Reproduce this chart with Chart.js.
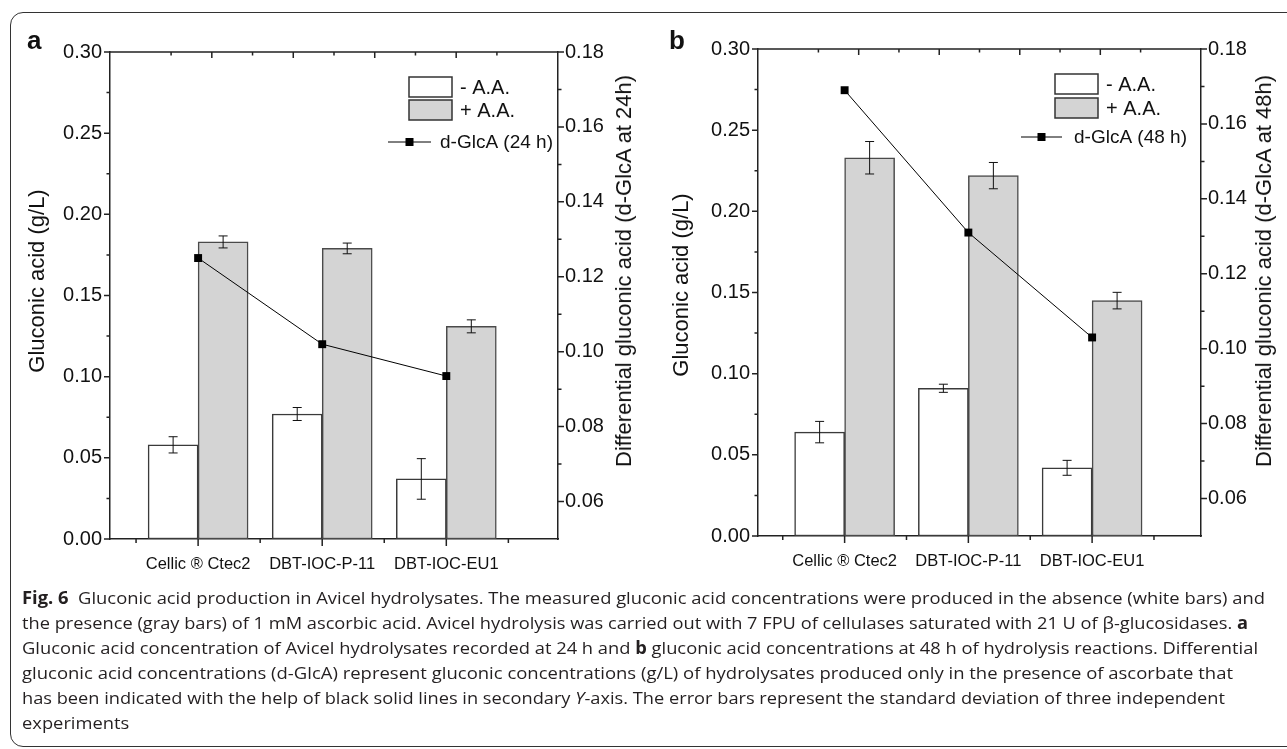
<!DOCTYPE html>
<html>
<head>
<meta charset="utf-8">
<script src="https://cdn.jsdelivr.net/npm/chart.js@4.4.1/dist/chart.umd.min.js"></script>
<style>
  body { margin: 0; background: #fff; width: 1287px; height: 749px; overflow: hidden; position: relative; font-family: 'Liberation Sans', Arial, sans-serif; color: #111; }
  .frame { position: absolute; left: 10px; top: 12px; width: 1320px; height: 733px; border: 1px solid #333; border-radius: 13px; }
  canvas { position: absolute; top: 0; }
  #chartA { left: 0; }
  #chartB { left: 640px; }
  .panel { position: absolute; font-weight: bold; font-size: 26px; line-height: 29px; }
  .ytitle { position: absolute; font-size: 22px; white-space: nowrap; transform: translate(-50%, -50%) rotate(-90deg); }
  .caption { position: absolute; left: 22px; top: 585px; font-family: 'Open Sans', 'Noto Sans', sans-serif; font-size: 17px; line-height: 25px; color: #231f20; }
  .caption div { white-space: nowrap; width: max-content; transform-origin: 0 50%; }
</style>
</head>
<body>
<div class="frame"></div>
<canvas id="chartA" width="640" height="590"></canvas>
<canvas id="chartB" width="647" height="590"></canvas>

<div class="panel" style="left:27px;top:26px">a</div>
<div class="panel" style="left:669px;top:26px">b</div>

<div class="ytitle" style="left:37px;top:281px">Gluconic acid (g/L)</div>
<div class="ytitle" style="left:624px;top:271px">Differential gluconic acid (d-GlcA at 24h)</div>
<div class="ytitle" style="left:681px;top:285px">Gluconic acid (g/L)</div>
<div class="ytitle" style="left:1264px;top:271px">Differential gluconic acid (d-GlcA at 48h)</div>

<div class="caption">
  <div><b>Fig. 6</b>&nbsp; Gluconic acid production in Avicel hydrolysates. The measured gluconic acid concentrations were produced in the absence (white bars) and</div>
  <div>the presence (gray bars) of 1 mM ascorbic acid. Avicel hydrolysis was carried out with 7 FPU of cellulases saturated with 21 U of β-glucosidases. <b>a</b></div>
  <div>Gluconic acid concentration of Avicel hydrolysates recorded at 24 h and <b>b</b> gluconic acid concentrations at 48 h of hydrolysis reactions. Differential</div>
  <div>gluconic acid concentrations (d-GlcA) represent gluconic concentrations (g/L) of hydrolysates produced only in the presence of ascorbate that</div>
  <div>has been indicated with the help of black solid lines in secondary <i>Y</i>-axis. The error bars represent the standard deviation of three independent</div>
  <div>experiments</div>
</div>

<script>
const categories = ['Cellic ® Ctec2', 'DBT-IOC-P-11', 'DBT-IOC-EU1'];
const leftTicks = [0.00, 0.05, 0.10, 0.15, 0.20, 0.25, 0.30];
const rightTicks = [0.06, 0.08, 0.10, 0.12, 0.14, 0.16, 0.18];

// panel a, 24 h
const noAA24 = [0.058, 0.077, 0.037];
const noAA24Err = [0.005, 0.004, 0.0125];
const withAA24 = [0.183, 0.179, 0.131];
const withAA24Err = [0.0037, 0.0033, 0.004];
const dGlcA24 = [0.125, 0.102, 0.0935];

// panel b, 48 h
const noAA48 = [0.064, 0.091, 0.042];
const noAA48Err = [0.0066, 0.0025, 0.0046];
const withAA48 = [0.233, 0.222, 0.145];
const withAA48Err = [0.010, 0.0081, 0.0051];
const dGlcA48 = [0.169, 0.131, 0.103];

Chart.defaults.font.family = "'Liberation Sans', Arial, sans-serif";
Chart.defaults.color = '#111';

const toPoints = vals => vals.map((v, i) => ({ x: i + 1, y: v }));
const mids = arr => arr.slice(1).map((v, i) => (v + arr[i]) / 2);

const errorBars = {
  id: 'errorBars',
  afterDatasetsDraw(chart) {
    const ctx = chart.ctx;
    const ys = chart.scales.y;
    chart.data.datasets.forEach((ds, di) => {
      if (!ds.errors) return;
      chart.getDatasetMeta(di).data.forEach((bar, i) => {
        const v = ds.data[i].y, e = ds.errors[i];
        const t = ys.getPixelForValue(v + e), b = ys.getPixelForValue(v - e);
        ctx.save();
        ctx.strokeStyle = '#111';
        ctx.lineWidth = 1;
        ctx.beginPath();
        ctx.moveTo(bar.x, t); ctx.lineTo(bar.x, b);
        ctx.moveTo(bar.x - 4.5, t); ctx.lineTo(bar.x + 4.5, t);
        ctx.moveTo(bar.x - 4.5, b); ctx.lineTo(bar.x + 4.5, b);
        ctx.stroke();
        ctx.restore();
      });
    });
  }
};

// frame top line + major/minor tick marks, placed with the chart scales
const axisTicks = {
  id: 'axisTicks',
  afterDraw(chart) {
    const { ctx, chartArea: ca, scales } = chart;
    ctx.save();
    ctx.strokeStyle = '#222';
    ctx.lineWidth = 1.5;
    ctx.beginPath();
    ctx.moveTo(ca.left, ca.top); ctx.lineTo(ca.right, ca.top);
    leftTicks.forEach(v => { const y = scales.y.getPixelForValue(v); ctx.moveTo(ca.left - 6, y); ctx.lineTo(ca.left, y); });
    mids(leftTicks).forEach(v => { const y = scales.y.getPixelForValue(v); ctx.moveTo(ca.left - 3.5, y); ctx.lineTo(ca.left, y); });
    rightTicks.forEach(v => { const y = scales.y2.getPixelForValue(v); ctx.moveTo(ca.right, y); ctx.lineTo(ca.right + 6, y); });
    mids(rightTicks).forEach(v => { const y = scales.y2.getPixelForValue(v); ctx.moveTo(ca.right, y); ctx.lineTo(ca.right + 3.5, y); });
    categories.forEach((c, i) => { const x = scales.x.getPixelForValue(i + 1); ctx.moveTo(x, ca.bottom); ctx.lineTo(x, ca.bottom + 7); });
    [0, 1, 2, 3].forEach(i => { const x = scales.x.getPixelForValue(i + 0.5); ctx.moveTo(x, ca.bottom); ctx.lineTo(x, ca.bottom + 4); });
    [1, 2, 3, 4].forEach(v => { const x = scales.xTop.getPixelForValue(v); ctx.moveTo(x, ca.top); ctx.lineTo(x, ca.top + 6); });
    [0.5, 1.5, 2.5, 3.5, 4.5].forEach(v => { const x = scales.xTop.getPixelForValue(v); ctx.moveTo(x, ca.top); ctx.lineTo(x, ca.top + 3.5); });
    ctx.stroke();
    ctx.restore();
  }
};

const boxLegend = {
  id: 'boxLegend',
  afterDraw(chart, args, o) {
    const { ctx, chartArea: ca } = chart;
    const ds = chart.data.datasets;
    ctx.save();
    [o.boxY1, o.boxY2].forEach((by, i) => {
      const x = ca.right + o.boxX, y = ca.top + by;
      ctx.fillStyle = ds[i].backgroundColor;
      ctx.fillRect(x, y, o.boxW, o.boxH);
      ctx.strokeStyle = '#333';
      ctx.lineWidth = 1.5;
      ctx.strokeRect(x, y, o.boxW, o.boxH);
      ctx.fillStyle = '#111';
      ctx.font = "20px 'Liberation Sans', Arial, sans-serif";
      ctx.textBaseline = 'middle';
      ctx.fillText(ds[i].label, ca.right + o.textX, y + o.boxH / 2 + 1);
    });
    const ly = ca.top + o.lineY;
    ctx.strokeStyle = '#000';
    ctx.lineWidth = 1;
    ctx.beginPath();
    ctx.moveTo(ca.right + o.lineX1, ly); ctx.lineTo(ca.right + o.lineX2, ly);
    ctx.stroke();
    const mx = (o.lineX1 + o.lineX2) / 2 + ca.right;
    ctx.fillStyle = '#000';
    ctx.fillRect(mx - 4, ly - 4, 8, 8);
    ctx.fillStyle = '#111';
    ctx.font = "19px 'Liberation Sans', Arial, sans-serif";
    ctx.textBaseline = 'middle';
    ctx.fillText(ds[2].label, ca.right + o.lineTextX, ly + 1);
    ctx.restore();
  }
};

function makeChart(id, cfg) {
  return new Chart(document.getElementById(id), {
    type: 'bar',
    data: {
      datasets: [
        { label: '- A.A.', data: toPoints(cfg.noAA), errors: cfg.noAAErr, backgroundColor: '#ffffff',
          borderColor: '#3a3a3a', borderWidth: 1.5, borderSkipped: false, barThickness: 50, order: 1 },
        { label: '+ A.A.', data: toPoints(cfg.withAA), errors: cfg.withAAErr, backgroundColor: '#d4d4d4',
          borderColor: '#4a4a4a', borderWidth: 1.5, borderSkipped: false, barThickness: 50, order: 1 },
        { type: 'line', label: cfg.lineLabel, data: toPoints(cfg.dGlcA), yAxisID: 'y2', borderColor: '#000',
          borderWidth: 1, pointStyle: 'rect', pointRadius: 5.6, pointBackgroundColor: '#000',
          pointBorderWidth: 0, fill: false, tension: 0, order: 0 }
      ]
    },
    options: {
      responsive: false,
      animation: false,
      layout: { padding: { top: cfg.top, left: 0, right: 0, bottom: 0 } },
      plugins: {
        legend: { display: false },
        tooltip: { enabled: false },
        boxLegend: cfg.legend
      },
      scales: {
        x: {
          type: 'linear', position: 'bottom', min: cfg.xMin, max: cfg.xMax, offset: false,
          grid: { display: false, drawTicks: false },
          border: { color: '#222', width: 1.5 },
          afterBuildTicks: s => { s.ticks = categories.map((c, i) => ({ value: i + 1 })); },
          ticks: { autoSkip: false, maxRotation: 0, padding: 16, font: { size: 16.5 }, callback: v => categories[v - 1] },
          afterFit: s => { s.height = cfg.bottomH; }
        },
        xTop: { type: 'linear', position: 'top', display: false, min: 0, max: 5 },
        y: {
          position: 'left', min: 0, max: 0.30,
          grid: { display: false, drawTicks: false },
          border: { color: '#222', width: 1.5 },
          afterBuildTicks: s => { s.ticks = leftTicks.map(v => ({ value: v })); },
          ticks: { padding: 8, font: { size: 20 }, callback: v => v.toFixed(2) },
          afterFit: s => { s.width = cfg.leftW; }
        },
        y2: {
          position: 'right', min: 0.05, max: 0.18,
          grid: { display: false, drawTicks: false },
          border: { color: '#222', width: 1.5 },
          afterBuildTicks: s => { s.ticks = rightTicks.map(v => ({ value: v })); },
          ticks: { padding: 7, font: { size: 20 }, callback: v => v.toFixed(2) },
          afterFit: s => { s.width = cfg.rightW; }
        }
      }
    },
    plugins: [errorBars, axisTicks, boxLegend]
  });
}

makeChart('chartA', {
  noAA: noAA24, noAAErr: noAA24Err, withAA: withAA24, withAAErr: withAA24Err, dGlcA: dGlcA24,
  lineLabel: 'd-GlcA (24 h)', xMin: 0.29, xMax: 3.9,
  top: 52, bottomH: 51, leftW: 110, rightW: 82,
  legend: { boxX: -149, boxW: 43, boxH: 20, boxY1: 25, boxY2: 48, textX: -98,
            lineX1: -170, lineX2: -127, lineY: 90, lineTextX: -118 }
});

makeChart('chartB', {
  noAA: noAA48, noAAErr: noAA48Err, withAA: withAA48, withAAErr: withAA48Err, dGlcA: dGlcA48,
  lineLabel: 'd-GlcA (48 h)', xMin: 0.3, xMax: 3.88,
  top: 49, bottomH: 54, leftW: 118, rightW: 86,
  legend: { boxX: -146, boxW: 43, boxH: 20, boxY1: 25, boxY2: 49, textX: -95,
            lineX1: -180, lineX2: -139, lineY: 88, lineTextX: -127 }
});

// fit each caption line to the width it has in the printed figure
const lineEnds = [1265, 1248, 1258, 1233, 1225];
const capLines = document.querySelectorAll('.caption div');
const scales = [];
lineEnds.forEach((end, i) => {
  const w = capLines[i].getBoundingClientRect().width;
  const s = (end - 22) / w;
  scales.push(s);
  capLines[i].style.transform = 'scaleX(' + s + ')';
});
capLines[5].style.transform = 'scaleX(' + (scales.reduce((a, b) => a + b, 0) / scales.length) + ')';
</script>
</body>
</html>
